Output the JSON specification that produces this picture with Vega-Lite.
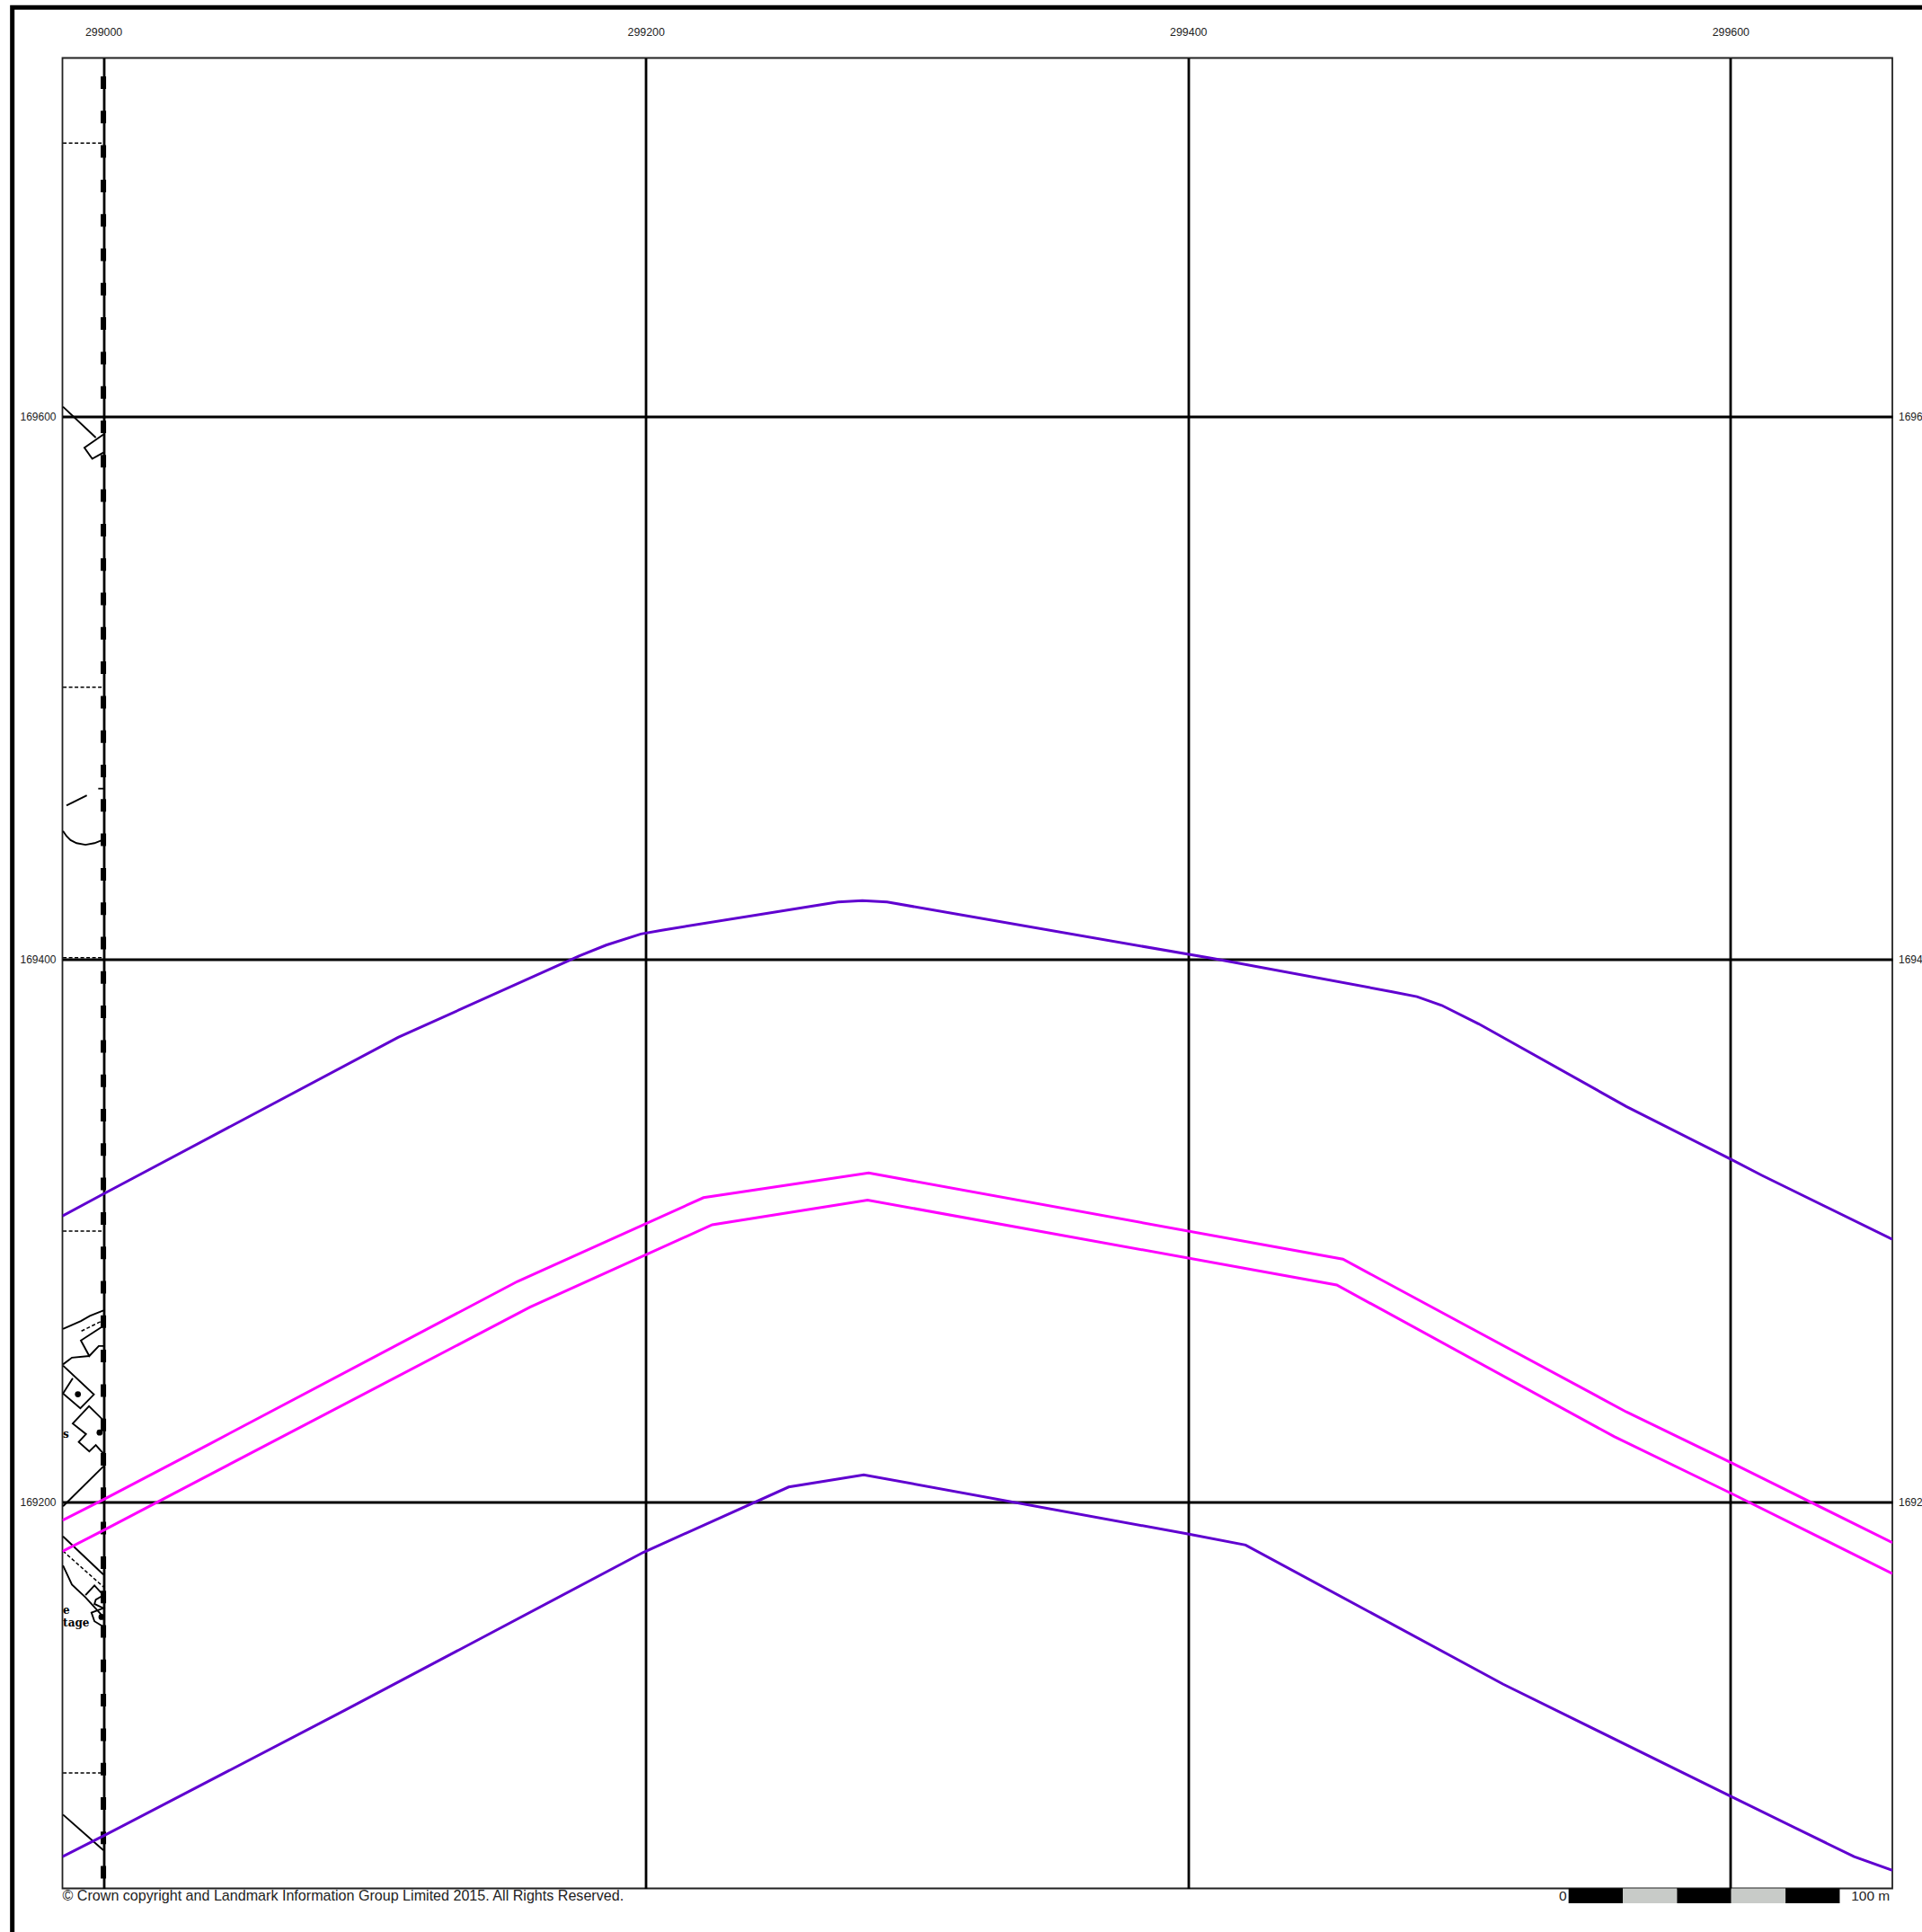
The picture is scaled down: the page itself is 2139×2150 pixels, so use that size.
{"$schema":"https://vega.github.io/schema/vega-lite/v6.json","width":2036.5,"height":2037,"autosize":{"type":"none"},"padding":{"left":69.5,"top":64.5,"right":33,"bottom":48.5},"background":"white","view":{"stroke":"#222222","strokeWidth":1.8,"fill":null},
"config":{"font":"Liberation Sans"},
"datasets":{
"routes":[
{"s":"pt","i":0,"x":298984.9,"y":169305.3},{"s":"pt","i":1,"x":299000.1,"y":169313.5},{"s":"pt","i":2,"x":299108.7,"y":169371.2},{"s":"pt","i":3,"x":299175.4,"y":169401.2},{"s":"pt","i":4,"x":299185.4,"y":169405.2},{"s":"pt","i":5,"x":299198.2,"y":169409.3},{"s":"pt","i":6,"x":299205.9,"y":169410.7},{"s":"pt","i":7,"x":299270.9,"y":169421.1},{"s":"pt","i":8,"x":299279.9,"y":169421.6},{"s":"pt","i":9,"x":299289.0,"y":169421.1},{"s":"pt","i":10,"x":299409.4,"y":169400.2},{"s":"pt","i":11,"x":299475.3,"y":169388.0},{"s":"pt","i":12,"x":299484.4,"y":169386.2},{"s":"pt","i":13,"x":299493.5,"y":169383.0},{"s":"pt","i":14,"x":299507.1,"y":169376.2},{"s":"pt","i":15,"x":299561.6,"y":169345.7},{"s":"pt","i":16,"x":299600.2,"y":169326.2},{"s":"pt","i":17,"x":299611.6,"y":169320.3},{"s":"pt","i":18,"x":299659.7,"y":169296.7},
{"s":"pb","i":0,"x":298984.9,"y":169069.1},{"s":"pb","i":1,"x":299000.1,"y":169076.8},{"s":"pb","i":2,"x":299089.1,"y":169123.1},{"s":"pb","i":3,"x":299199.1,"y":169181.3},{"s":"pb","i":4,"x":299252.7,"y":169205.4},{"s":"pb","i":5,"x":299280.4,"y":169209.9},{"s":"pb","i":6,"x":299399.9,"y":169188.1},{"s":"pb","i":7,"x":299421.2,"y":169184.0},{"s":"pb","i":8,"x":299516.2,"y":169132.7},{"s":"pb","i":9,"x":299600.2,"y":169091.3},{"s":"pb","i":10,"x":299645.6,"y":169069.1},{"s":"pb","i":11,"x":299659.7,"y":169064.1}],
"corridor":[
{"s":"mu","i":0,"x":298984.9,"y":169193.1},{"s":"mu","i":1,"x":299000.1,"y":169200.8},{"s":"mu","i":2,"x":299039.2,"y":169221.3},{"s":"mu","i":3,"x":299152.7,"y":169281.2},{"s":"mu","i":4,"x":299221.3,"y":169312.1},{"s":"mu","i":5,"x":299282.2,"y":169321.2},{"s":"mu","i":6,"x":299457.1,"y":169289.4},{"s":"mu","i":7,"x":299561.6,"y":169233.1},{"s":"mu","i":8,"x":299600.2,"y":169214.4},{"s":"mu","i":9,"x":299659.7,"y":169184.9},
{"s":"ml","i":0,"x":298984.9,"y":169181.7},{"s":"ml","i":1,"x":299000.1,"y":169189.5},{"s":"ml","i":2,"x":299157.3,"y":169271.7},{"s":"ml","i":3,"x":299224.5,"y":169302.1},{"s":"ml","i":4,"x":299281.8,"y":169311.2},{"s":"ml","i":5,"x":299454.8,"y":169279.9},{"s":"ml","i":6,"x":299557.1,"y":169224.0},{"s":"ml","i":7,"x":299600.2,"y":169203.1},{"s":"ml","i":8,"x":299659.7,"y":169173.5}],
"mapSolid":[
{"s":"a","i":0,"x":298985.1,"y":169263.7},{"s":"a","i":1,"x":298991.7,"y":169266.6},{"s":"a","i":2,"x":298995.0,"y":169268.5},{"s":"a","i":3,"x":299000,"y":169270.5},
{"s":"c","i":0,"x":299000,"y":169264.8},{"s":"c","i":1,"x":298991.7,"y":169259.4},{"s":"c","i":2,"x":298994.8,"y":169253.7},{"s":"c","i":3,"x":298998.3,"y":169257.4},{"s":"c","i":4,"x":299000,"y":169257.4},
{"s":"d","i":0,"x":298985.1,"y":169250.6},{"s":"d","i":1,"x":298988.4,"y":169253.1},{"s":"d","i":2,"x":298994.8,"y":169253.7},
{"s":"e","i":0,"x":298985.1,"y":169250.2},{"s":"e","i":1,"x":298996.5,"y":169239.5},{"s":"e","i":2,"x":298991.5,"y":169234.4},{"s":"e","i":3,"x":298985.1,"y":169239.9},{"s":"e","i":4,"x":298988.7,"y":169245.5},
{"s":"f","i":0,"x":299000,"y":169230.0},{"s":"f","i":1,"x":298994.7,"y":169235.2},{"s":"f","i":2,"x":298988.7,"y":169228.8},{"s":"f","i":3,"x":298993.6,"y":169224.9},{"s":"f","i":4,"x":298990.9,"y":169222.0},{"s":"f","i":5,"x":298994.8,"y":169218.5},{"s":"f","i":6,"x":298997.2,"y":169220.9},{"s":"f","i":7,"x":299000,"y":169217.7},
{"s":"g","i":0,"x":298985.1,"y":169198.3},{"s":"g","i":1,"x":299000,"y":169213.0},
{"s":"h","i":0,"x":298985.1,"y":169187.2},{"s":"h","i":1,"x":299000,"y":169173.1},
{"s":"j","i":0,"x":298985.1,"y":169176.5},{"s":"j","i":1,"x":298988.4,"y":169169.4},{"s":"j","i":2,"x":298993.4,"y":169164.7},{"s":"j","i":3,"x":299000,"y":169157.5},
{"s":"k","i":0,"x":298993.4,"y":169165.5},{"s":"k","i":1,"x":298996.7,"y":169169.1},{"s":"k","i":2,"x":299000,"y":169165.5},{"s":"k","i":3,"x":298997.2,"y":169163.9},{"s":"k","i":4,"x":298996.7,"y":169162.3},{"s":"k","i":5,"x":299000,"y":169160.7},{"s":"k","i":6,"x":298995.6,"y":169159.1},{"s":"k","i":7,"x":298996.7,"y":169155.9},{"s":"k","i":8,"x":299000,"y":169153.9},
{"s":"l","i":0,"x":298985.1,"y":169084.6},{"s":"l","i":1,"x":299000,"y":169071.5},
{"s":"n","i":0,"x":298985.1,"y":169603.7},{"s":"n","i":1,"x":298997.2,"y":169592.3},
{"s":"o","i":0,"x":299000,"y":169593.5},{"s":"o","i":1,"x":298993.0,"y":169588.6},{"s":"o","i":2,"x":298995.9,"y":169584.5},{"s":"o","i":3,"x":299000,"y":169586.8},
{"s":"p","i":0,"x":298986.4,"y":169456.7},{"s":"p","i":1,"x":298993.9,"y":169460.4},
{"s":"q","i":0,"x":298998.1,"y":169462.9},{"s":"q","i":1,"x":299000,"y":169462.9},
{"s":"r","i":0,"x":298985.1,"y":169447.3},{"s":"r","i":1,"x":298986.4,"y":169445.4},{"s":"r","i":2,"x":298987.9,"y":169443.9},{"s":"r","i":3,"x":298990.1,"y":169442.8},{"s":"r","i":4,"x":298993.4,"y":169442.2},{"s":"r","i":5,"x":298996.7,"y":169442.8},{"s":"r","i":6,"x":299000,"y":169444.1}],
"mapDashed":[
{"s":"b1","i":0,"x":298991.9,"y":169262.9},{"s":"b1","i":1,"x":299000,"y":169266.9},
{"s":"i1","i":0,"x":298985.1,"y":169181.8},{"s":"i1","i":1,"x":299000,"y":169168.6},
{"s":"d7","i":0,"x":298985.1,"y":169700.9},{"s":"d7","i":1,"x":299000,"y":169700.9},
{"s":"d5","i":0,"x":298985.1,"y":169500.3},{"s":"d5","i":1,"x":299000,"y":169500.3},
{"s":"d4","i":0,"x":298985.1,"y":169400.6},{"s":"d4","i":1,"x":299000,"y":169400.6},
{"s":"d3","i":0,"x":298985.1,"y":169299.8},{"s":"d3","i":1,"x":299000,"y":169299.8},
{"s":"d1","i":0,"x":298985.1,"y":169100},{"s":"d1","i":1,"x":299000,"y":169100}],
"blobs":[{"x":298990.6,"y":169239.6},{"x":298998.6,"y":169225.5},{"x":298999.3,"y":169157.5}],
"mapText":[{"x":298985.1,"y":169224.9,"t":"s"},{"x":298985.1,"y":169159.9,"t":"e"},{"x":298985.1,"y":169155.2,"t":"tage"}],
"boundary":[{"i":0,"x":299000,"y":169732.3},{"i":1,"x":299000,"y":169057.4}],
"frame":[{"i":0,"x":298966.4,"y":169030},{"i":1,"x":298966.4,"y":169750.9},{"i":2,"x":299680,"y":169750.9}],
"scalebar":[{"a":299540.3,"b":299560.3,"c":"k"},{"a":299560.3,"b":299580.3,"c":"g"},{"a":299580.3,"b":299600.3,"c":"k"},{"a":299600.3,"b":299620.3,"c":"g"},{"a":299620.3,"b":299640.3,"c":"k"}]
},
"resolve":{"axis":{"y":"independent"}},
"layer":[
{"data":{"name":"mapSolid"},"mark":{"type":"line","color":"black","strokeWidth":1.9,"clip":true},
"encoding":{"x":{"field":"x","type":"quantitative","scale":{"domain":[298984.9,299659.7],"nice":false,"zero":false},"axis":{"orient":"top","values":[299000,299200,299400,299600],"format":"d","title":null,"ticks":false,"domain":false,"grid":true,"gridColor":"black","gridWidth":2.8,"labelFontSize":12.4,"labelColor":"#222","labelPadding":22,"labelFont":"Liberation Sans"}},
"y":{"field":"y","type":"quantitative","scale":{"domain":[169057.4,169732.3],"nice":false,"zero":false},"axis":{"orient":"left","values":[169200,169400,169600],"format":"d","title":null,"ticks":false,"domain":false,"grid":true,"gridColor":"black","gridWidth":2.8,"labelFontSize":12,"labelColor":"#222","labelPadding":7.5,"labelFont":"Liberation Sans"}},
"detail":{"field":"s"},"order":{"field":"i"}}},
{"data":{"name":"mapDashed"},"mark":{"type":"line","color":"black","strokeWidth":1.5,"strokeDash":[4,2.5],"clip":true},
"encoding":{"x":{"field":"x","type":"quantitative"},"y":{"field":"y","type":"quantitative","axis":null},"detail":{"field":"s"},"order":{"field":"i"}}},
{"data":{"name":"blobs"},"mark":{"type":"point","filled":true,"color":"black","size":45,"opacity":1,"clip":true},
"encoding":{"x":{"field":"x","type":"quantitative"},"y":{"field":"y","type":"quantitative","axis":null}}},
{"data":{"name":"mapText"},"mark":{"type":"text","font":"DejaVu Serif","fontWeight":"bold","fontSize":12,"align":"left","baseline":"middle","color":"black","clip":true},
"encoding":{"x":{"field":"x","type":"quantitative"},"y":{"field":"y","type":"quantitative","axis":null},"text":{"field":"t"}}},
{"data":{"name":"boundary"},"mark":{"type":"line","color":"black","strokeWidth":6,"strokeDash":[14,24.3],"strokeDashOffset":17.8,"strokeCap":"butt"},
"encoding":{"x":{"field":"x","type":"quantitative"},"y":{"field":"y","type":"quantitative","axis":null},"order":{"field":"i"}}},
{"data":{"name":"corridor"},"mark":{"type":"line","color":"#ff00ff","strokeWidth":3,"clip":true},
"encoding":{"x":{"field":"x","type":"quantitative"},"y":{"field":"y","type":"quantitative","axis":null},"detail":{"field":"s"},"order":{"field":"i"}}},
{"data":{"name":"routes"},"mark":{"type":"line","color":"#6000d0","strokeWidth":3,"clip":true},
"encoding":{"x":{"field":"x","type":"quantitative"},"y":{"field":"y","type":"quantitative","axis":null},"detail":{"field":"s"},"order":{"field":"i"}}},
{"data":{"name":"frame"},"mark":{"type":"line","color":"black","strokeWidth":5,"strokeCap":"square","clip":false},
"encoding":{"x":{"field":"x","type":"quantitative"},"y":{"field":"y","type":"quantitative","axis":null},"order":{"field":"i"}}},
{"data":{"name":"scalebar"},"mark":{"type":"rect","clip":false},
"encoding":{"x":{"field":"a","type":"quantitative"},"x2":{"field":"b"},"y":{"datum":169057.4,"type":"quantitative","axis":null},"y2":{"datum":169051.9},"color":{"field":"c","type":"nominal","legend":null,"scale":{"domain":["k","g"],"range":["#000000","#c8cbc8"]}}}},
{"data":{"values":[{"x":298984.9,"y":169054.5,"t":"© Crown copyright and Landmark Information Group Limited 2015.  All Rights Reserved."}]},"mark":{"type":"text","align":"left","baseline":"middle","fontSize":16.1,"color":"#222","font":"Liberation Sans","clip":false},
"encoding":{"x":{"field":"x","type":"quantitative"},"y":{"field":"y","type":"quantitative","axis":null},"text":{"field":"t"}}},
{"data":{"values":[{"x":299539.6,"y":169054.5,"t":"0"},{"x":299658.8,"y":169054.5,"t":"100 m"}]},"mark":{"type":"text","align":"right","baseline":"middle","fontSize":15.5,"color":"#222","font":"Liberation Sans","clip":false},
"encoding":{"x":{"field":"x","type":"quantitative"},"y":{"field":"y","type":"quantitative","axis":null},"text":{"field":"t"}}},
{"data":{"values":[{"x":299000,"y":169200}]},"mark":{"type":"point","opacity":0},
"encoding":{"x":{"field":"x","type":"quantitative"},"y":{"field":"y","type":"quantitative","axis":{"orient":"right","values":[169200,169400,169600],"labelExpr":"slice(format(datum.value,'d'),0,4)","title":null,"ticks":false,"domain":false,"grid":false,"labelFontSize":12,"labelColor":"#222","labelPadding":6.5,"labelFont":"Liberation Sans"}}}}
]}
